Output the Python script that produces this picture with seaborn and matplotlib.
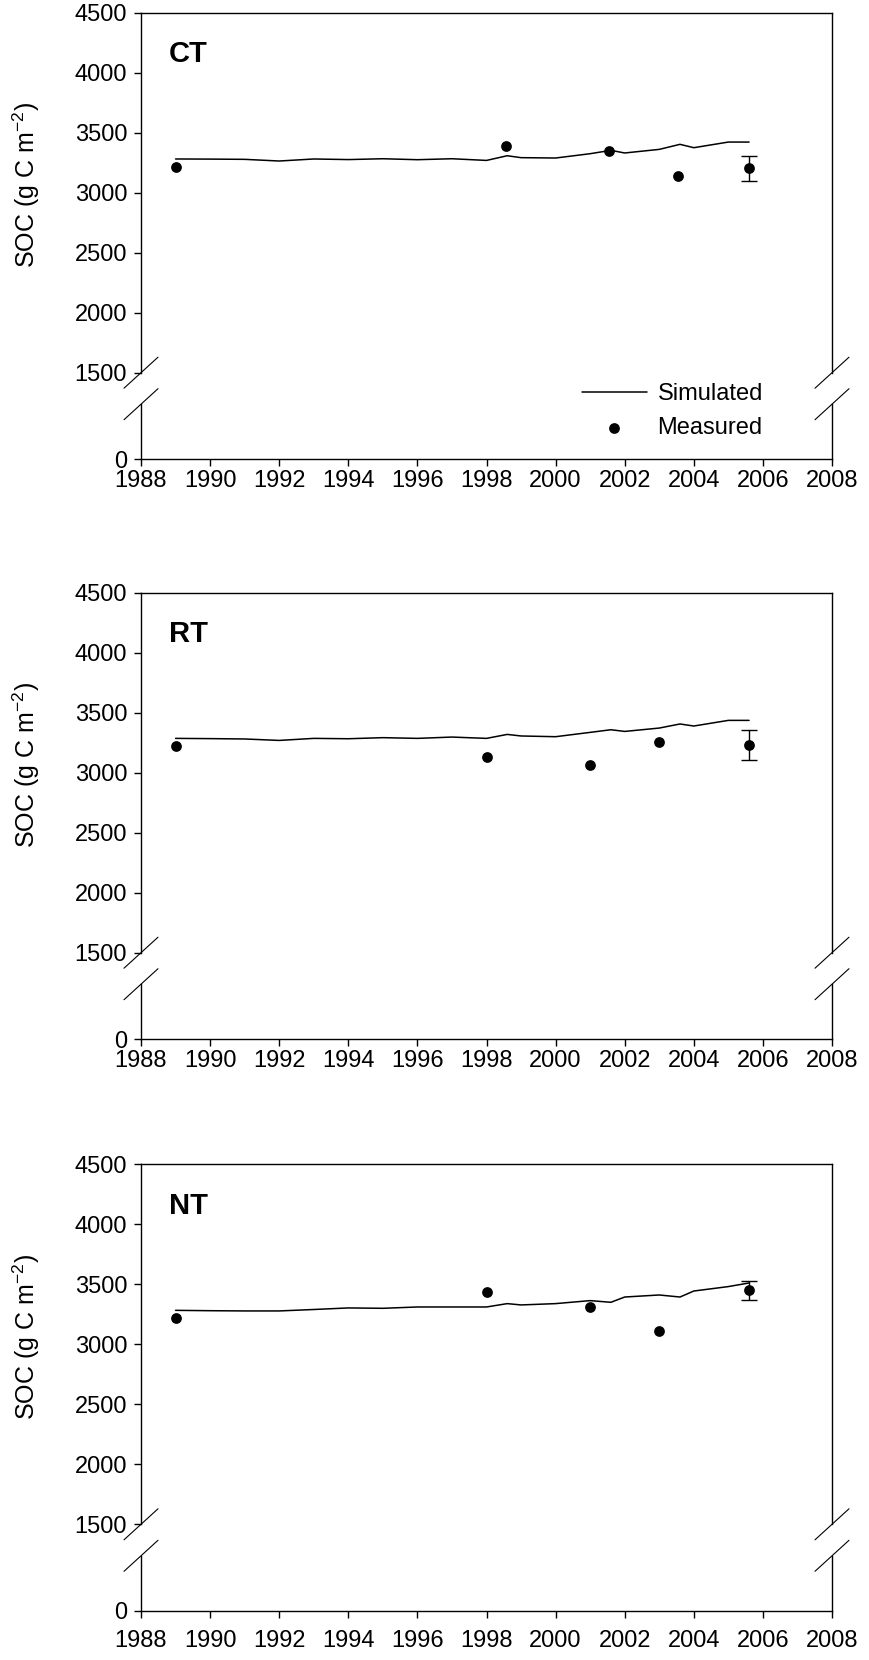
import numpy as np
import pandas as pd
import matplotlib
matplotlib.use('Agg')
import matplotlib.pyplot as plt
import seaborn as sns

# simulated SOC (g C m-2), model output
sim_years = [1989, 1990, 1991, 1992, 1993, 1994, 1995, 1996, 1997, 1998, 1998.6,
             1999, 2000, 2001, 2001.6, 2002, 2003, 2003.6, 2004, 2005, 2005.6]
sim_ct = [3281, 3280, 3278, 3264, 3281, 3276, 3283, 3275, 3283, 3269, 3308,
          3292, 3289, 3325, 3353, 3331, 3361, 3403, 3375, 3422, 3422]
sim_rt = [3286, 3284, 3281, 3269, 3286, 3283, 3292, 3286, 3297, 3286, 3319,
          3306, 3300, 3336, 3358, 3344, 3372, 3406, 3389, 3436, 3436]
sim_nt = [3283, 3280, 3278, 3278, 3290, 3303, 3300, 3311, 3311, 3311, 3339,
          3328, 3339, 3364, 3350, 3394, 3411, 3394, 3444, 3481, 3511]

# measured SOC
meas_years_ct = [1989, 1998.55, 2001.55, 2003.55, 2005.6]
meas_ct = [3217, 3389, 3346, 3140, 3203]
meas_years_rt = [1989, 1998.0, 2001.0, 2003.0, 2005.6]
meas_rt = [3222, 3131, 3067, 3258, 3228]
meas_years_nt = [1989, 1998.0, 2001.0, 2003.0, 2005.6]
meas_nt = [3219, 3436, 3311, 3108, 3450]
# std. dev. of the last sampling
sd_last = {'CT': 105, 'RT': 125, 'NT': 80}

treatments = ['CT', 'RT', 'NT']
sim = {'CT': sim_ct, 'RT': sim_rt, 'NT': sim_nt}
meas = {'CT': (meas_years_ct, meas_ct), 'RT': (meas_years_rt, meas_rt),
        'NT': (meas_years_nt, meas_nt)}

sns.set_style('ticks')
plt.rcParams['font.family'] = ['Liberation Sans', 'DejaVu Sans']
plt.rcParams['mathtext.fontset'] = 'custom'
plt.rcParams['mathtext.rm'] = 'Liberation Sans'
plt.rcParams['mathtext.default'] = 'regular'
plt.rcParams['axes.linewidth'] = 1.0
plt.rcParams['axes.edgecolor'] = 'black'
plt.rcParams['text.color'] = 'black'
plt.rcParams['axes.labelcolor'] = 'black'

W, H = 869, 1660
fig = plt.figure(figsize=(W / 100, H / 100), dpi=100)
left, right = 141, 832
tops = [12.7, 592.7, 1164.3]
xpads = [2.5, 2.5, 9]
up_h, gap, lo_h = 360, 31.5, 55


def rect(top, height):
    return [left / W, 1 - (top + height) / H, (right - left) / W, height / H]


for i, (trt, top) in enumerate(zip(treatments, tops)):
    ax_up = fig.add_axes(rect(top, up_h))
    ax_lo = fig.add_axes(rect(top + up_h + gap, lo_h), sharex=ax_up)
    ax_lo.patch.set_visible(False)

    df_sim = pd.DataFrame({'Year': sim_years, 'SOC': sim[trt]})
    df_meas = pd.DataFrame({'Year': meas[trt][0], 'SOC': meas[trt][1]})

    sns.lineplot(data=df_sim, x='Year', y='SOC', ax=ax_up, color='black',
                 linewidth=1.1)
    sim_line = ax_up.lines[-1]
    sns.scatterplot(data=df_meas, x='Year', y='SOC', ax=ax_up, color='black',
                    s=60, edgecolor='black', linewidth=0)
    meas_pts = ax_up.collections[-1]
    ax_up.errorbar(df_meas['Year'].iloc[-1], df_meas['SOC'].iloc[-1],
                   yerr=sd_last[trt], fmt='none', ecolor='black',
                   elinewidth=1, capsize=5.5, capthick=1)

    ax_up.set_xlim(1988, 2008)
    ax_up.set_ylim(1500, 4500)
    ax_up.set_yticks(np.arange(1500, 4501, 500))
    ax_lo.set_ylim(0, 458)
    ax_lo.set_yticks([0])
    ax_lo.set_xticks(np.arange(1988, 2009, 2))

    ax_up.spines['bottom'].set_visible(False)
    ax_lo.spines['top'].set_visible(False)
    ax_up.tick_params(axis='x', bottom=False, labelbottom=False)
    for ax in (ax_up, ax_lo):
        ax.tick_params(axis='both', direction='out', length=5, width=1,
                       labelsize=17, colors='black')
        ax.tick_params(axis='y', pad=5)
        ax.set_xlabel('')
        ax.set_ylabel('')
    ax_lo.tick_params(axis='x', pad=xpads[i])

    ax_up.set_ylabel('SOC (g C m$^{-2}$)', fontsize=18)
    ax_up.yaxis.set_label_coords(-0.143, 0.52)
    ax_up.text(0.04, 0.885, trt, transform=ax_up.transAxes, fontsize=21,
               fontweight='bold', va='center', ha='left')

    # axis break marks on both sides
    dx = 17 / (right - left)
    for xs in (0, 1):
        ax_up.plot([xs - dx, xs + dx], [-15.5 / up_h, 15.5 / up_h],
                   transform=ax_up.transAxes, color='black', lw=0.8, clip_on=False)
        ax_lo.plot([xs - dx, xs + dx], [1 - 15.5 / lo_h, 1 + 15.5 / lo_h],
                   transform=ax_lo.transAxes, color='black', lw=0.8, clip_on=False)

    if i == 0:
        leg = ax_up.legend([sim_line, meas_pts], ['Simulated', 'Measured'],
                           loc='upper left', bbox_to_anchor=(582 / W, 1 - 383 / H),
                           bbox_transform=fig.transFigure, frameon=False, fontsize=17,
                           handlelength=2.75, handletextpad=0.45, labelspacing=0.5,
                           borderpad=0, borderaxespad=0)
        leg.set_zorder(10)

fig.savefig('out.png', dpi=100)
